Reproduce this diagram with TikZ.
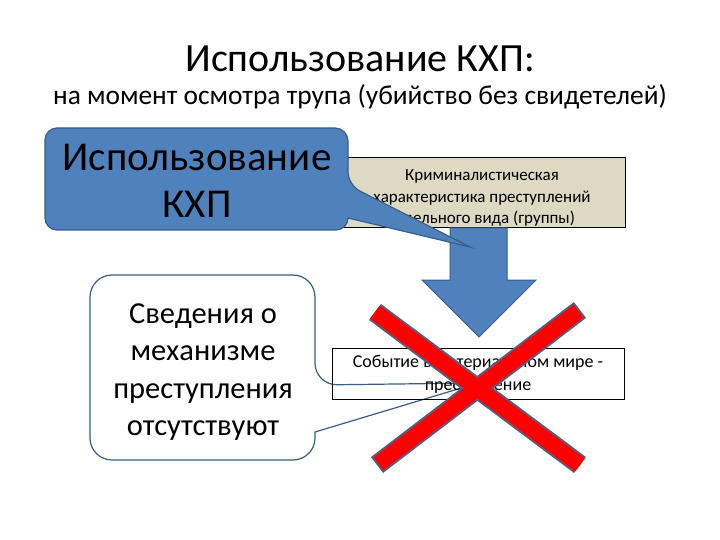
\documentclass[tikz,border=0pt]{standalone}
\usepackage{fontspec}
\setmainfont{Carlito}
\usetikzlibrary{positioning}
\definecolor{calloutblue}{RGB}{79,129,189}
\definecolor{calloutedge}{RGB}{56,93,138}
\definecolor{boxbeige}{RGB}{221,217,195}
\definecolor{crossedge}{RGB}{85,95,125}
\tikzset{%
  plainbox/.style={draw=black, line width=1pt},
  boxtext/.style={align=center, font=\fontsize{17}{21.5}\selectfont, inner sep=0pt},
  bigtext/.style={align=center, inner sep=0pt},
}

\begin{document}
\begin{tikzpicture}[x=1pt, y=-1pt]
    \useasboundingbox (0,0) rectangle (720,540);

    % heading
    \node[font=\fontsize{40}{48}\selectfont, anchor=base] (title) at (360,72) {Использование КХП:};
    \node[font=\fontsize{27.4}{31}\selectfont, anchor=base] (subtitle) at (360,105) {на момент осмотра трупа (убийство без свидетелей)};

    % characteristic box
    \draw[plainbox, fill=boxbeige] (340,158) rectangle (625,228);
    \node[boxtext] (charact) at (482,198) {Криминалистическая\\характеристика преступлений\\отдельного вида (группы)};

    % down arrow
    \draw[calloutedge, line width=1pt, fill=calloutblue]
        (450,228) -- (507,228) -- (507,280) -- (536,280) -- (479,337)
        -- (422,280) -- (450,280) -- cycle;

    % blue callout
    \coordinate (bluetip) at (470,247);
    \draw[calloutedge, line width=1.2pt, fill=calloutblue, rounded corners=13pt]
        (45,128) -- (348,128) -- (348,185) [sharp corners] -- (bluetip)
        -- (348,218) [rounded corners=12pt] -- (348,230) -- (45,230) -- cycle;
    \node[bigtext, font=\fontsize{41}{47}\selectfont] (usage) at (197,181) {Использование\\КХП};

    % white callout
    \coordinate (whitetip) at (478,383);
    \draw[calloutedge, line width=1.2pt, fill=white, rounded corners=22pt]
        (90,275) -- (315,275) -- (315,385) [sharp corners] -- (whitetip)
        -- (315,432) [rounded corners=22pt] -- (315,460) -- (90,460) -- cycle;
    \node[bigtext, font=\fontsize{30.5}{37.5}\selectfont] (nodata) at (203,372) {Сведения о\\механизме\\преступления\\отсутствуют};

    % event box
    \draw[plainbox] (332,348) rectangle (624,399);
    \node[boxtext, font=\fontsize{18}{23}\selectfont] (event) at (478,374) {Событие в материальном мире -\\преступление};

    % red cross
    \coordinate (X1) at (375,312);
    \coordinate (X2) at (580,465);
    \coordinate (X3) at (580,310);
    \coordinate (X4) at (377,465);
    \draw[crossedge, line width=20pt] (X1) -- (X2) (X3) -- (X4);
    \draw[red, line width=16pt, shorten <=2pt, shorten >=2pt] (X1) -- (X2) (X3) -- (X4);

\end{tikzpicture}
\end{document}
